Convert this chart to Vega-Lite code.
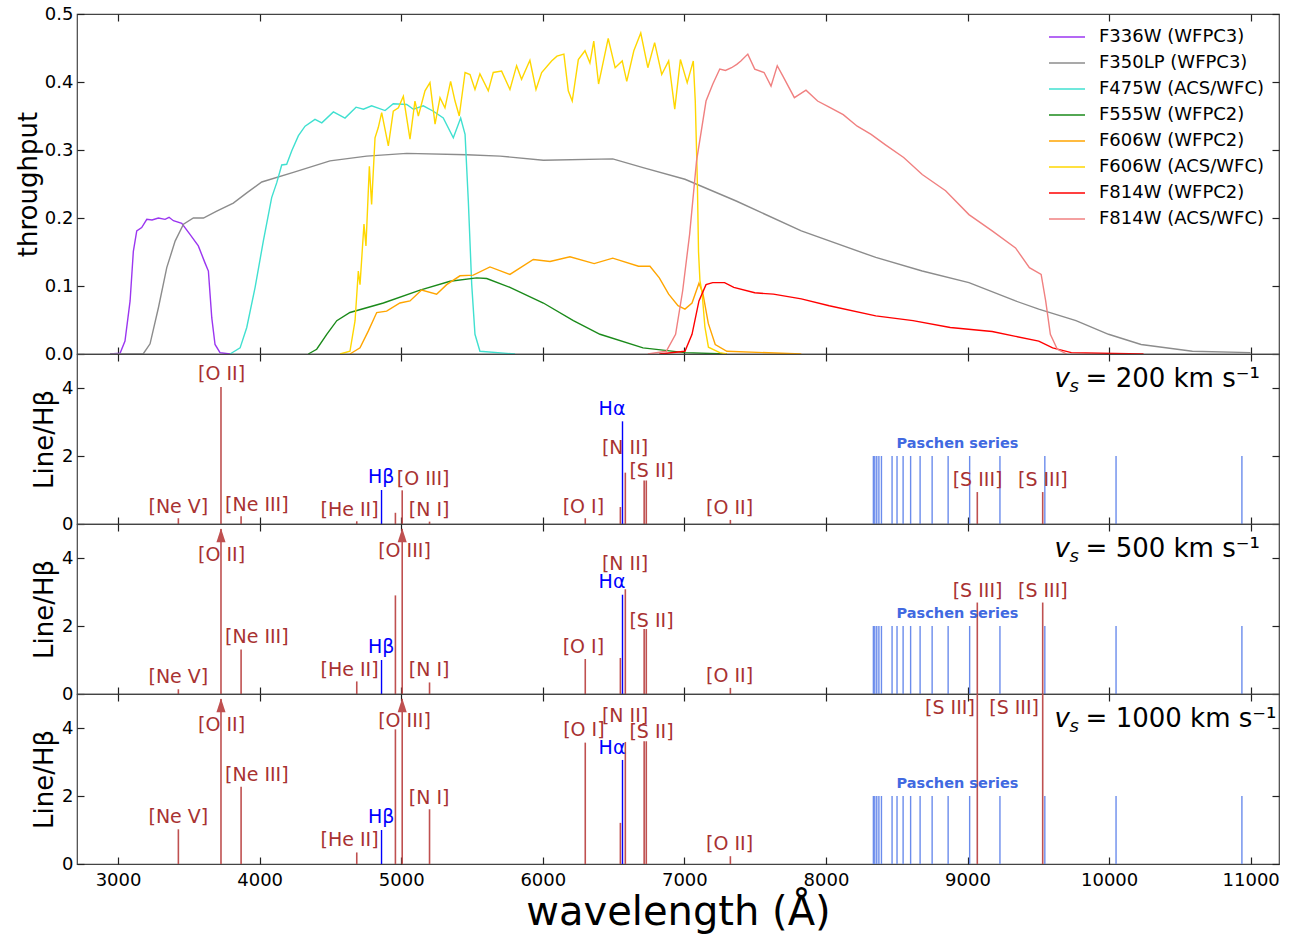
{
  "$schema": "https://vega.github.io/schema/vega-lite/v6.json",
  "padding": {"left": 14, "top": 4, "right": 5, "bottom": 2},
  "config": {
    "font": "DejaVu Sans",
    "view": {"stroke": "#444", "strokeWidth": 1.2},
    "axis": {"grid": false, "domain": false, "tickSize": -7, "tickColor": "#222", "tickWidth": 1.2, "labelFontSize": 18, "labelColor": "#000", "labelFont": "DejaVu Sans", "titleFont": "DejaVu Sans", "titleFontSize": 26, "titleFontWeight": "normal", "titleColor": "#000", "labelPadding": 11, "titlePadding": 4},
    "legend": {"labelFont": "DejaVu Sans"}
  },
  "datasets": {
    "filters": [
      {"filter": "F336W (WFPC3)", "wavelength": 2944, "throughput": 0},
      {"filter": "F336W (WFPC3)", "wavelength": 3014, "throughput": 0.001},
      {"filter": "F336W (WFPC3)", "wavelength": 3049, "throughput": 0.019},
      {"filter": "F336W (WFPC3)", "wavelength": 3085, "throughput": 0.078},
      {"filter": "F336W (WFPC3)", "wavelength": 3108, "throughput": 0.151},
      {"filter": "F336W (WFPC3)", "wavelength": 3132, "throughput": 0.181},
      {"filter": "F336W (WFPC3)", "wavelength": 3167, "throughput": 0.186},
      {"filter": "F336W (WFPC3)", "wavelength": 3203, "throughput": 0.198},
      {"filter": "F336W (WFPC3)", "wavelength": 3240, "throughput": 0.197},
      {"filter": "F336W (WFPC3)", "wavelength": 3285, "throughput": 0.2},
      {"filter": "F336W (WFPC3)", "wavelength": 3332, "throughput": 0.198},
      {"filter": "F336W (WFPC3)", "wavelength": 3360, "throughput": 0.201},
      {"filter": "F336W (WFPC3)", "wavelength": 3391, "throughput": 0.196},
      {"filter": "F336W (WFPC3)", "wavelength": 3450, "throughput": 0.192},
      {"filter": "F336W (WFPC3)", "wavelength": 3508, "throughput": 0.176},
      {"filter": "F336W (WFPC3)", "wavelength": 3567, "throughput": 0.159},
      {"filter": "F336W (WFPC3)", "wavelength": 3614, "throughput": 0.134},
      {"filter": "F336W (WFPC3)", "wavelength": 3638, "throughput": 0.122},
      {"filter": "F336W (WFPC3)", "wavelength": 3662, "throughput": 0.053},
      {"filter": "F336W (WFPC3)", "wavelength": 3685, "throughput": 0.014},
      {"filter": "F336W (WFPC3)", "wavelength": 3720, "throughput": 0.002},
      {"filter": "F336W (WFPC3)", "wavelength": 3791, "throughput": 0},
      {"filter": "F350LP (WFPC3)", "wavelength": 2944, "throughput": 0},
      {"filter": "F350LP (WFPC3)", "wavelength": 3177, "throughput": 0},
      {"filter": "F350LP (WFPC3)", "wavelength": 3226, "throughput": 0.015},
      {"filter": "F350LP (WFPC3)", "wavelength": 3285, "throughput": 0.068},
      {"filter": "F350LP (WFPC3)", "wavelength": 3344, "throughput": 0.127},
      {"filter": "F350LP (WFPC3)", "wavelength": 3403, "throughput": 0.166},
      {"filter": "F350LP (WFPC3)", "wavelength": 3462, "throughput": 0.191},
      {"filter": "F350LP (WFPC3)", "wavelength": 3532, "throughput": 0.2},
      {"filter": "F350LP (WFPC3)", "wavelength": 3603, "throughput": 0.2},
      {"filter": "F350LP (WFPC3)", "wavelength": 3697, "throughput": 0.21},
      {"filter": "F350LP (WFPC3)", "wavelength": 3814, "throughput": 0.222},
      {"filter": "F350LP (WFPC3)", "wavelength": 3909, "throughput": 0.237},
      {"filter": "F350LP (WFPC3)", "wavelength": 4015, "throughput": 0.253},
      {"filter": "F350LP (WFPC3)", "wavelength": 4238, "throughput": 0.267},
      {"filter": "F350LP (WFPC3)", "wavelength": 4497, "throughput": 0.284},
      {"filter": "F350LP (WFPC3)", "wavelength": 4756, "throughput": 0.291},
      {"filter": "F350LP (WFPC3)", "wavelength": 5039, "throughput": 0.295},
      {"filter": "F350LP (WFPC3)", "wavelength": 5463, "throughput": 0.293},
      {"filter": "F350LP (WFPC3)", "wavelength": 5698, "throughput": 0.291},
      {"filter": "F350LP (WFPC3)", "wavelength": 6004, "throughput": 0.285},
      {"filter": "F350LP (WFPC3)", "wavelength": 6494, "throughput": 0.287},
      {"filter": "F350LP (WFPC3)", "wavelength": 6708, "throughput": 0.274},
      {"filter": "F350LP (WFPC3)", "wavelength": 7004, "throughput": 0.257},
      {"filter": "F350LP (WFPC3)", "wavelength": 7366, "throughput": 0.225},
      {"filter": "F350LP (WFPC3)", "wavelength": 7826, "throughput": 0.181},
      {"filter": "F350LP (WFPC3)", "wavelength": 8352, "throughput": 0.142},
      {"filter": "F350LP (WFPC3)", "wavelength": 8680, "throughput": 0.122},
      {"filter": "F350LP (WFPC3)", "wavelength": 9010, "throughput": 0.105},
      {"filter": "F350LP (WFPC3)", "wavelength": 9339, "throughput": 0.078},
      {"filter": "F350LP (WFPC3)", "wavelength": 9503, "throughput": 0.066},
      {"filter": "F350LP (WFPC3)", "wavelength": 9766, "throughput": 0.049},
      {"filter": "F350LP (WFPC3)", "wavelength": 9996, "throughput": 0.029},
      {"filter": "F350LP (WFPC3)", "wavelength": 10226, "throughput": 0.014},
      {"filter": "F350LP (WFPC3)", "wavelength": 10588, "throughput": 0.004},
      {"filter": "F350LP (WFPC3)", "wavelength": 10999, "throughput": 0.002},
      {"filter": "F475W (ACS/WFC)", "wavelength": 3791, "throughput": 0},
      {"filter": "F475W (ACS/WFC)", "wavelength": 3862, "throughput": 0.009},
      {"filter": "F475W (ACS/WFC)", "wavelength": 3909, "throughput": 0.039},
      {"filter": "F475W (ACS/WFC)", "wavelength": 3968, "throughput": 0.098},
      {"filter": "F475W (ACS/WFC)", "wavelength": 4026, "throughput": 0.166},
      {"filter": "F475W (ACS/WFC)", "wavelength": 4085, "throughput": 0.23},
      {"filter": "F475W (ACS/WFC)", "wavelength": 4121, "throughput": 0.252},
      {"filter": "F475W (ACS/WFC)", "wavelength": 4156, "throughput": 0.278},
      {"filter": "F475W (ACS/WFC)", "wavelength": 4191, "throughput": 0.279},
      {"filter": "F475W (ACS/WFC)", "wavelength": 4227, "throughput": 0.299},
      {"filter": "F475W (ACS/WFC)", "wavelength": 4274, "throughput": 0.321},
      {"filter": "F475W (ACS/WFC)", "wavelength": 4321, "throughput": 0.335},
      {"filter": "F475W (ACS/WFC)", "wavelength": 4391, "throughput": 0.345},
      {"filter": "F475W (ACS/WFC)", "wavelength": 4439, "throughput": 0.34},
      {"filter": "F475W (ACS/WFC)", "wavelength": 4521, "throughput": 0.356},
      {"filter": "F475W (ACS/WFC)", "wavelength": 4603, "throughput": 0.347},
      {"filter": "F475W (ACS/WFC)", "wavelength": 4681, "throughput": 0.363},
      {"filter": "F475W (ACS/WFC)", "wavelength": 4733, "throughput": 0.36},
      {"filter": "F475W (ACS/WFC)", "wavelength": 4791, "throughput": 0.365},
      {"filter": "F475W (ACS/WFC)", "wavelength": 4886, "throughput": 0.358},
      {"filter": "F475W (ACS/WFC)", "wavelength": 4944, "throughput": 0.368},
      {"filter": "F475W (ACS/WFC)", "wavelength": 5039, "throughput": 0.367},
      {"filter": "F475W (ACS/WFC)", "wavelength": 5086, "throughput": 0.36},
      {"filter": "F475W (ACS/WFC)", "wavelength": 5156, "throughput": 0.365},
      {"filter": "F475W (ACS/WFC)", "wavelength": 5227, "throughput": 0.357},
      {"filter": "F475W (ACS/WFC)", "wavelength": 5297, "throughput": 0.347},
      {"filter": "F475W (ACS/WFC)", "wavelength": 5368, "throughput": 0.318},
      {"filter": "F475W (ACS/WFC)", "wavelength": 5420, "throughput": 0.347},
      {"filter": "F475W (ACS/WFC)", "wavelength": 5451, "throughput": 0.323},
      {"filter": "F475W (ACS/WFC)", "wavelength": 5474, "throughput": 0.225},
      {"filter": "F475W (ACS/WFC)", "wavelength": 5498, "throughput": 0.102},
      {"filter": "F475W (ACS/WFC)", "wavelength": 5521, "throughput": 0.029},
      {"filter": "F475W (ACS/WFC)", "wavelength": 5556, "throughput": 0.004},
      {"filter": "F475W (ACS/WFC)", "wavelength": 5804, "throughput": 0},
      {"filter": "F555W (WFPC2)", "wavelength": 4344, "throughput": 0},
      {"filter": "F555W (WFPC2)", "wavelength": 4403, "throughput": 0.007},
      {"filter": "F555W (WFPC2)", "wavelength": 4474, "throughput": 0.029},
      {"filter": "F555W (WFPC2)", "wavelength": 4545, "throughput": 0.049},
      {"filter": "F555W (WFPC2)", "wavelength": 4638, "throughput": 0.061},
      {"filter": "F555W (WFPC2)", "wavelength": 4874, "throughput": 0.075},
      {"filter": "F555W (WFPC2)", "wavelength": 5133, "throughput": 0.094},
      {"filter": "F555W (WFPC2)", "wavelength": 5345, "throughput": 0.107},
      {"filter": "F555W (WFPC2)", "wavelength": 5533, "throughput": 0.112},
      {"filter": "F555W (WFPC2)", "wavelength": 5604, "throughput": 0.111},
      {"filter": "F555W (WFPC2)", "wavelength": 5768, "throughput": 0.098},
      {"filter": "F555W (WFPC2)", "wavelength": 6004, "throughput": 0.075},
      {"filter": "F555W (WFPC2)", "wavelength": 6216, "throughput": 0.049},
      {"filter": "F555W (WFPC2)", "wavelength": 6404, "throughput": 0.029},
      {"filter": "F555W (WFPC2)", "wavelength": 6708, "throughput": 0.009},
      {"filter": "F555W (WFPC2)", "wavelength": 7004, "throughput": 0.002},
      {"filter": "F555W (WFPC2)", "wavelength": 7300, "throughput": 0},
      {"filter": "F606W (WFPC2)", "wavelength": 4638, "throughput": 0},
      {"filter": "F606W (WFPC2)", "wavelength": 4709, "throughput": 0.009},
      {"filter": "F606W (WFPC2)", "wavelength": 4768, "throughput": 0.034},
      {"filter": "F606W (WFPC2)", "wavelength": 4827, "throughput": 0.061},
      {"filter": "F606W (WFPC2)", "wavelength": 4897, "throughput": 0.063},
      {"filter": "F606W (WFPC2)", "wavelength": 4991, "throughput": 0.075},
      {"filter": "F606W (WFPC2)", "wavelength": 5062, "throughput": 0.078},
      {"filter": "F606W (WFPC2)", "wavelength": 5144, "throughput": 0.094},
      {"filter": "F606W (WFPC2)", "wavelength": 5250, "throughput": 0.088},
      {"filter": "F606W (WFPC2)", "wavelength": 5321, "throughput": 0.102},
      {"filter": "F606W (WFPC2)", "wavelength": 5415, "throughput": 0.115},
      {"filter": "F606W (WFPC2)", "wavelength": 5509, "throughput": 0.116},
      {"filter": "F606W (WFPC2)", "wavelength": 5627, "throughput": 0.128},
      {"filter": "F606W (WFPC2)", "wavelength": 5768, "throughput": 0.117},
      {"filter": "F606W (WFPC2)", "wavelength": 5933, "throughput": 0.139},
      {"filter": "F606W (WFPC2)", "wavelength": 6051, "throughput": 0.136},
      {"filter": "F606W (WFPC2)", "wavelength": 6192, "throughput": 0.143},
      {"filter": "F606W (WFPC2)", "wavelength": 6363, "throughput": 0.133},
      {"filter": "F606W (WFPC2)", "wavelength": 6494, "throughput": 0.141},
      {"filter": "F606W (WFPC2)", "wavelength": 6676, "throughput": 0.129},
      {"filter": "F606W (WFPC2)", "wavelength": 6757, "throughput": 0.129},
      {"filter": "F606W (WFPC2)", "wavelength": 6823, "throughput": 0.112},
      {"filter": "F606W (WFPC2)", "wavelength": 6889, "throughput": 0.088},
      {"filter": "F606W (WFPC2)", "wavelength": 6955, "throughput": 0.071},
      {"filter": "F606W (WFPC2)", "wavelength": 7004, "throughput": 0.066},
      {"filter": "F606W (WFPC2)", "wavelength": 7054, "throughput": 0.075},
      {"filter": "F606W (WFPC2)", "wavelength": 7103, "throughput": 0.104},
      {"filter": "F606W (WFPC2)", "wavelength": 7130, "throughput": 0.09},
      {"filter": "F606W (WFPC2)", "wavelength": 7169, "throughput": 0.045},
      {"filter": "F606W (WFPC2)", "wavelength": 7218, "throughput": 0.014},
      {"filter": "F606W (WFPC2)", "wavelength": 7300, "throughput": 0.004},
      {"filter": "F606W (WFPC2)", "wavelength": 7826, "throughput": 0},
      {"filter": "F606W (ACS/WFC)", "wavelength": 4568, "throughput": 0},
      {"filter": "F606W (ACS/WFC)", "wavelength": 4638, "throughput": 0.004},
      {"filter": "F606W (ACS/WFC)", "wavelength": 4674, "throughput": 0.049},
      {"filter": "F606W (ACS/WFC)", "wavelength": 4697, "throughput": 0.122},
      {"filter": "F606W (ACS/WFC)", "wavelength": 4709, "throughput": 0.102},
      {"filter": "F606W (ACS/WFC)", "wavelength": 4737, "throughput": 0.191},
      {"filter": "F606W (ACS/WFC)", "wavelength": 4751, "throughput": 0.159},
      {"filter": "F606W (ACS/WFC)", "wavelength": 4775, "throughput": 0.276},
      {"filter": "F606W (ACS/WFC)", "wavelength": 4791, "throughput": 0.22},
      {"filter": "F606W (ACS/WFC)", "wavelength": 4815, "throughput": 0.318},
      {"filter": "F606W (ACS/WFC)", "wavelength": 4838, "throughput": 0.333},
      {"filter": "F606W (ACS/WFC)", "wavelength": 4862, "throughput": 0.355},
      {"filter": "F606W (ACS/WFC)", "wavelength": 4909, "throughput": 0.306},
      {"filter": "F606W (ACS/WFC)", "wavelength": 4944, "throughput": 0.357},
      {"filter": "F606W (ACS/WFC)", "wavelength": 4980, "throughput": 0.362},
      {"filter": "F606W (ACS/WFC)", "wavelength": 5015, "throughput": 0.379},
      {"filter": "F606W (ACS/WFC)", "wavelength": 5062, "throughput": 0.316},
      {"filter": "F606W (ACS/WFC)", "wavelength": 5097, "throughput": 0.372},
      {"filter": "F606W (ACS/WFC)", "wavelength": 5121, "throughput": 0.35},
      {"filter": "F606W (ACS/WFC)", "wavelength": 5168, "throughput": 0.387},
      {"filter": "F606W (ACS/WFC)", "wavelength": 5203, "throughput": 0.399},
      {"filter": "F606W (ACS/WFC)", "wavelength": 5239, "throughput": 0.338},
      {"filter": "F606W (ACS/WFC)", "wavelength": 5274, "throughput": 0.377},
      {"filter": "F606W (ACS/WFC)", "wavelength": 5309, "throughput": 0.362},
      {"filter": "F606W (ACS/WFC)", "wavelength": 5349, "throughput": 0.401},
      {"filter": "F606W (ACS/WFC)", "wavelength": 5380, "throughput": 0.372},
      {"filter": "F606W (ACS/WFC)", "wavelength": 5410, "throughput": 0.35},
      {"filter": "F606W (ACS/WFC)", "wavelength": 5451, "throughput": 0.414},
      {"filter": "F606W (ACS/WFC)", "wavelength": 5486, "throughput": 0.411},
      {"filter": "F606W (ACS/WFC)", "wavelength": 5521, "throughput": 0.389},
      {"filter": "F606W (ACS/WFC)", "wavelength": 5556, "throughput": 0.412},
      {"filter": "F606W (ACS/WFC)", "wavelength": 5615, "throughput": 0.387},
      {"filter": "F606W (ACS/WFC)", "wavelength": 5650, "throughput": 0.414},
      {"filter": "F606W (ACS/WFC)", "wavelength": 5709, "throughput": 0.416},
      {"filter": "F606W (ACS/WFC)", "wavelength": 5768, "throughput": 0.389},
      {"filter": "F606W (ACS/WFC)", "wavelength": 5815, "throughput": 0.424},
      {"filter": "F606W (ACS/WFC)", "wavelength": 5850, "throughput": 0.404},
      {"filter": "F606W (ACS/WFC)", "wavelength": 5909, "throughput": 0.432},
      {"filter": "F606W (ACS/WFC)", "wavelength": 5952, "throughput": 0.389},
      {"filter": "F606W (ACS/WFC)", "wavelength": 5992, "throughput": 0.414},
      {"filter": "F606W (ACS/WFC)", "wavelength": 6062, "throughput": 0.431},
      {"filter": "F606W (ACS/WFC)", "wavelength": 6100, "throughput": 0.438},
      {"filter": "F606W (ACS/WFC)", "wavelength": 6149, "throughput": 0.441},
      {"filter": "F606W (ACS/WFC)", "wavelength": 6180, "throughput": 0.387},
      {"filter": "F606W (ACS/WFC)", "wavelength": 6208, "throughput": 0.372},
      {"filter": "F606W (ACS/WFC)", "wavelength": 6251, "throughput": 0.433},
      {"filter": "F606W (ACS/WFC)", "wavelength": 6298, "throughput": 0.446},
      {"filter": "F606W (ACS/WFC)", "wavelength": 6333, "throughput": 0.428},
      {"filter": "F606W (ACS/WFC)", "wavelength": 6360, "throughput": 0.46},
      {"filter": "F606W (ACS/WFC)", "wavelength": 6394, "throughput": 0.397},
      {"filter": "F606W (ACS/WFC)", "wavelength": 6462, "throughput": 0.464},
      {"filter": "F606W (ACS/WFC)", "wavelength": 6511, "throughput": 0.421},
      {"filter": "F606W (ACS/WFC)", "wavelength": 6561, "throughput": 0.431},
      {"filter": "F606W (ACS/WFC)", "wavelength": 6593, "throughput": 0.401},
      {"filter": "F606W (ACS/WFC)", "wavelength": 6643, "throughput": 0.446},
      {"filter": "F606W (ACS/WFC)", "wavelength": 6692, "throughput": 0.472},
      {"filter": "F606W (ACS/WFC)", "wavelength": 6742, "throughput": 0.421},
      {"filter": "F606W (ACS/WFC)", "wavelength": 6790, "throughput": 0.458},
      {"filter": "F606W (ACS/WFC)", "wavelength": 6840, "throughput": 0.411},
      {"filter": "F606W (ACS/WFC)", "wavelength": 6889, "throughput": 0.431},
      {"filter": "F606W (ACS/WFC)", "wavelength": 6932, "throughput": 0.36},
      {"filter": "F606W (ACS/WFC)", "wavelength": 6972, "throughput": 0.433},
      {"filter": "F606W (ACS/WFC)", "wavelength": 7020, "throughput": 0.399},
      {"filter": "F606W (ACS/WFC)", "wavelength": 7063, "throughput": 0.431},
      {"filter": "F606W (ACS/WFC)", "wavelength": 7077, "throughput": 0.372},
      {"filter": "F606W (ACS/WFC)", "wavelength": 7092, "throughput": 0.25},
      {"filter": "F606W (ACS/WFC)", "wavelength": 7100, "throughput": 0.15},
      {"filter": "F606W (ACS/WFC)", "wavelength": 7110, "throughput": 0.108},
      {"filter": "F606W (ACS/WFC)", "wavelength": 7125, "throughput": 0.09},
      {"filter": "F606W (ACS/WFC)", "wavelength": 7145, "throughput": 0.04},
      {"filter": "F606W (ACS/WFC)", "wavelength": 7170, "throughput": 0.01},
      {"filter": "F606W (ACS/WFC)", "wavelength": 7250, "throughput": 0.002},
      {"filter": "F606W (ACS/WFC)", "wavelength": 7300, "throughput": 0},
      {"filter": "F814W (WFPC2)", "wavelength": 6823, "throughput": 0},
      {"filter": "F814W (WFPC2)", "wavelength": 7004, "throughput": 0.004},
      {"filter": "F814W (WFPC2)", "wavelength": 7054, "throughput": 0.029},
      {"filter": "F814W (WFPC2)", "wavelength": 7103, "throughput": 0.078},
      {"filter": "F814W (WFPC2)", "wavelength": 7153, "throughput": 0.102},
      {"filter": "F814W (WFPC2)", "wavelength": 7200, "throughput": 0.105},
      {"filter": "F814W (WFPC2)", "wavelength": 7284, "throughput": 0.105},
      {"filter": "F814W (WFPC2)", "wavelength": 7349, "throughput": 0.098},
      {"filter": "F814W (WFPC2)", "wavelength": 7497, "throughput": 0.09},
      {"filter": "F814W (WFPC2)", "wavelength": 7629, "throughput": 0.088},
      {"filter": "F814W (WFPC2)", "wavelength": 7826, "throughput": 0.081},
      {"filter": "F814W (WFPC2)", "wavelength": 8023, "throughput": 0.071},
      {"filter": "F814W (WFPC2)", "wavelength": 8352, "throughput": 0.056},
      {"filter": "F814W (WFPC2)", "wavelength": 8615, "throughput": 0.049},
      {"filter": "F814W (WFPC2)", "wavelength": 8878, "throughput": 0.039},
      {"filter": "F814W (WFPC2)", "wavelength": 9174, "throughput": 0.033},
      {"filter": "F814W (WFPC2)", "wavelength": 9339, "throughput": 0.026},
      {"filter": "F814W (WFPC2)", "wavelength": 9503, "throughput": 0.019},
      {"filter": "F814W (WFPC2)", "wavelength": 9601, "throughput": 0.009},
      {"filter": "F814W (WFPC2)", "wavelength": 9733, "throughput": 0.002},
      {"filter": "F814W (WFPC2)", "wavelength": 10243, "throughput": 0},
      {"filter": "F814W (ACS/WFC)", "wavelength": 6742, "throughput": 0},
      {"filter": "F814W (ACS/WFC)", "wavelength": 6872, "throughput": 0.004},
      {"filter": "F814W (ACS/WFC)", "wavelength": 6938, "throughput": 0.029},
      {"filter": "F814W (ACS/WFC)", "wavelength": 6988, "throughput": 0.093},
      {"filter": "F814W (ACS/WFC)", "wavelength": 7037, "throughput": 0.176},
      {"filter": "F814W (ACS/WFC)", "wavelength": 7086, "throughput": 0.284},
      {"filter": "F814W (ACS/WFC)", "wavelength": 7153, "throughput": 0.372},
      {"filter": "F814W (ACS/WFC)", "wavelength": 7201, "throughput": 0.397},
      {"filter": "F814W (ACS/WFC)", "wavelength": 7250, "throughput": 0.419},
      {"filter": "F814W (ACS/WFC)", "wavelength": 7290, "throughput": 0.417},
      {"filter": "F814W (ACS/WFC)", "wavelength": 7333, "throughput": 0.421},
      {"filter": "F814W (ACS/WFC)", "wavelength": 7370, "throughput": 0.426},
      {"filter": "F814W (ACS/WFC)", "wavelength": 7399, "throughput": 0.431},
      {"filter": "F814W (ACS/WFC)", "wavelength": 7448, "throughput": 0.441},
      {"filter": "F814W (ACS/WFC)", "wavelength": 7497, "throughput": 0.419},
      {"filter": "F814W (ACS/WFC)", "wavelength": 7563, "throughput": 0.414},
      {"filter": "F814W (ACS/WFC)", "wavelength": 7612, "throughput": 0.394},
      {"filter": "F814W (ACS/WFC)", "wavelength": 7656, "throughput": 0.424},
      {"filter": "F814W (ACS/WFC)", "wavelength": 7695, "throughput": 0.409},
      {"filter": "F814W (ACS/WFC)", "wavelength": 7777, "throughput": 0.377},
      {"filter": "F814W (ACS/WFC)", "wavelength": 7859, "throughput": 0.388},
      {"filter": "F814W (ACS/WFC)", "wavelength": 7941, "throughput": 0.372},
      {"filter": "F814W (ACS/WFC)", "wavelength": 8023, "throughput": 0.363},
      {"filter": "F814W (ACS/WFC)", "wavelength": 8122, "throughput": 0.352},
      {"filter": "F814W (ACS/WFC)", "wavelength": 8221, "throughput": 0.335},
      {"filter": "F814W (ACS/WFC)", "wavelength": 8319, "throughput": 0.323},
      {"filter": "F814W (ACS/WFC)", "wavelength": 8418, "throughput": 0.308},
      {"filter": "F814W (ACS/WFC)", "wavelength": 8549, "throughput": 0.289},
      {"filter": "F814W (ACS/WFC)", "wavelength": 8680, "throughput": 0.264},
      {"filter": "F814W (ACS/WFC)", "wavelength": 8845, "throughput": 0.24},
      {"filter": "F814W (ACS/WFC)", "wavelength": 9010, "throughput": 0.205},
      {"filter": "F814W (ACS/WFC)", "wavelength": 9174, "throughput": 0.181},
      {"filter": "F814W (ACS/WFC)", "wavelength": 9339, "throughput": 0.156},
      {"filter": "F814W (ACS/WFC)", "wavelength": 9437, "throughput": 0.127},
      {"filter": "F814W (ACS/WFC)", "wavelength": 9520, "throughput": 0.117},
      {"filter": "F814W (ACS/WFC)", "wavelength": 9552, "throughput": 0.078},
      {"filter": "F814W (ACS/WFC)", "wavelength": 9585, "throughput": 0.029},
      {"filter": "F814W (ACS/WFC)", "wavelength": 9634, "throughput": 0.007},
      {"filter": "F814W (ACS/WFC)", "wavelength": 9700, "throughput": 0}
    ],
    "lines": [
      {"panel": "v200", "ion": "[Ne V]", "wavelength": 3426, "ratio": 0.17, "kind": "forbidden"},
      {"panel": "v200", "ion": "[O II]", "wavelength": 3727, "ratio": 4.03, "kind": "forbidden"},
      {"panel": "v200", "ion": "[Ne III]", "wavelength": 3869, "ratio": 0.23, "kind": "forbidden"},
      {"panel": "v200", "ion": "[He II]", "wavelength": 4686, "ratio": 0.08, "kind": "forbidden"},
      {"panel": "v200", "ion": "Hβ", "wavelength": 4861, "ratio": 1.0, "kind": "balmer"},
      {"panel": "v200", "ion": "[O III]", "wavelength": 4959, "ratio": 0.33, "kind": "forbidden"},
      {"panel": "v200", "ion": "[O III]", "wavelength": 5007, "ratio": 0.99, "kind": "forbidden"},
      {"panel": "v200", "ion": "[N I]", "wavelength": 5200, "ratio": 0.07, "kind": "forbidden"},
      {"panel": "v200", "ion": "[O I]", "wavelength": 6300, "ratio": 0.17, "kind": "forbidden"},
      {"panel": "v200", "ion": "[N II]", "wavelength": 6548, "ratio": 0.5, "kind": "forbidden"},
      {"panel": "v200", "ion": "Hα", "wavelength": 6563, "ratio": 3.02, "kind": "balmer"},
      {"panel": "v200", "ion": "[N II]", "wavelength": 6583, "ratio": 1.51, "kind": "forbidden"},
      {"panel": "v200", "ion": "[S II]", "wavelength": 6716, "ratio": 1.28, "kind": "forbidden"},
      {"panel": "v200", "ion": "[S II]", "wavelength": 6731, "ratio": 1.28, "kind": "forbidden"},
      {"panel": "v200", "ion": "[O II]", "wavelength": 7325, "ratio": 0.12, "kind": "forbidden"},
      {"panel": "v200", "ion": "[S III]", "wavelength": 9069, "ratio": 0.94, "kind": "forbidden"},
      {"panel": "v200", "ion": "[S III]", "wavelength": 9531, "ratio": 0.94, "kind": "forbidden"},
      {"panel": "v500", "ion": "[Ne V]", "wavelength": 3426, "ratio": 0.14, "kind": "forbidden"},
      {"panel": "v500", "ion": "[O II]", "wavelength": 3727, "ratio": 4.85, "kind": "forbidden", "arrow": true},
      {"panel": "v500", "ion": "[Ne III]", "wavelength": 3869, "ratio": 1.31, "kind": "forbidden"},
      {"panel": "v500", "ion": "[He II]", "wavelength": 4686, "ratio": 0.37, "kind": "forbidden"},
      {"panel": "v500", "ion": "Hβ", "wavelength": 4861, "ratio": 1.0, "kind": "balmer"},
      {"panel": "v500", "ion": "[O III]", "wavelength": 4959, "ratio": 2.9, "kind": "forbidden"},
      {"panel": "v500", "ion": "[O III]", "wavelength": 5007, "ratio": 4.85, "kind": "forbidden", "arrow": true},
      {"panel": "v500", "ion": "[N I]", "wavelength": 5200, "ratio": 0.34, "kind": "forbidden"},
      {"panel": "v500", "ion": "[O I]", "wavelength": 6300, "ratio": 1.03, "kind": "forbidden"},
      {"panel": "v500", "ion": "[N II]", "wavelength": 6548, "ratio": 1.06, "kind": "forbidden"},
      {"panel": "v500", "ion": "Hα", "wavelength": 6563, "ratio": 2.92, "kind": "balmer"},
      {"panel": "v500", "ion": "[N II]", "wavelength": 6583, "ratio": 3.08, "kind": "forbidden"},
      {"panel": "v500", "ion": "[S II]", "wavelength": 6716, "ratio": 1.91, "kind": "forbidden"},
      {"panel": "v500", "ion": "[S II]", "wavelength": 6731, "ratio": 1.91, "kind": "forbidden"},
      {"panel": "v500", "ion": "[O II]", "wavelength": 7325, "ratio": 0.18, "kind": "forbidden"},
      {"panel": "v500", "ion": "[S III]", "wavelength": 9069, "ratio": 2.69, "kind": "forbidden"},
      {"panel": "v500", "ion": "[S III]", "wavelength": 9531, "ratio": 2.69, "kind": "forbidden"},
      {"panel": "v1000", "ion": "[Ne V]", "wavelength": 3426, "ratio": 1.02, "kind": "forbidden"},
      {"panel": "v1000", "ion": "[O II]", "wavelength": 3727, "ratio": 4.85, "kind": "forbidden", "arrow": true},
      {"panel": "v1000", "ion": "[Ne III]", "wavelength": 3869, "ratio": 2.27, "kind": "forbidden"},
      {"panel": "v1000", "ion": "[He II]", "wavelength": 4686, "ratio": 0.34, "kind": "forbidden"},
      {"panel": "v1000", "ion": "Hβ", "wavelength": 4861, "ratio": 1.0, "kind": "balmer"},
      {"panel": "v1000", "ion": "[O III]", "wavelength": 4959, "ratio": 3.96, "kind": "forbidden"},
      {"panel": "v1000", "ion": "[O III]", "wavelength": 5007, "ratio": 4.85, "kind": "forbidden", "arrow": true},
      {"panel": "v1000", "ion": "[N I]", "wavelength": 5200, "ratio": 1.61, "kind": "forbidden"},
      {"panel": "v1000", "ion": "[O I]", "wavelength": 6300, "ratio": 3.57, "kind": "forbidden"},
      {"panel": "v1000", "ion": "[N II]", "wavelength": 6548, "ratio": 1.21, "kind": "forbidden"},
      {"panel": "v1000", "ion": "Hα", "wavelength": 6563, "ratio": 3.06, "kind": "balmer"},
      {"panel": "v1000", "ion": "[N II]", "wavelength": 6583, "ratio": 3.59, "kind": "forbidden"},
      {"panel": "v1000", "ion": "[S II]", "wavelength": 6716, "ratio": 3.61, "kind": "forbidden"},
      {"panel": "v1000", "ion": "[S II]", "wavelength": 6731, "ratio": 3.61, "kind": "forbidden"},
      {"panel": "v1000", "ion": "[O II]", "wavelength": 7325, "ratio": 0.23, "kind": "forbidden"},
      {"panel": "v1000", "ion": "[S III]", "wavelength": 9069, "ratio": 5.0, "kind": "forbidden"},
      {"panel": "v1000", "ion": "[S III]", "wavelength": 9531, "ratio": 5.0, "kind": "forbidden"}
    ],
    "labels": [
      {"panel": "v200", "text": "[Ne V]", "wavelength": 3426, "ratio": 0.51, "kind": "forbidden"},
      {"panel": "v200", "text": "[O II]", "wavelength": 3731, "ratio": 4.4, "kind": "forbidden"},
      {"panel": "v200", "text": "[Ne III]", "wavelength": 3980, "ratio": 0.56, "kind": "forbidden"},
      {"panel": "v200", "text": "[He II]", "wavelength": 4635, "ratio": 0.4, "kind": "forbidden"},
      {"panel": "v200", "text": "Hβ", "wavelength": 4859, "ratio": 1.39, "kind": "balmer"},
      {"panel": "v200", "text": "[O III]", "wavelength": 5155, "ratio": 1.33, "kind": "forbidden"},
      {"panel": "v200", "text": "[N I]", "wavelength": 5197, "ratio": 0.4, "kind": "forbidden"},
      {"panel": "v200", "text": "[O I]", "wavelength": 6287, "ratio": 0.51, "kind": "forbidden"},
      {"panel": "v200", "text": "Hα", "wavelength": 6489, "ratio": 3.38, "kind": "balmer"},
      {"panel": "v200", "text": "[N II]", "wavelength": 6581, "ratio": 2.25, "kind": "forbidden"},
      {"panel": "v200", "text": "[S II]", "wavelength": 6768, "ratio": 1.56, "kind": "forbidden"},
      {"panel": "v200", "text": "[O II]", "wavelength": 7319, "ratio": 0.48, "kind": "forbidden"},
      {"panel": "v200", "text": "[S III]", "wavelength": 9071, "ratio": 1.28, "kind": "forbidden"},
      {"panel": "v200", "text": "[S III]", "wavelength": 9532, "ratio": 1.28, "kind": "forbidden"},
      {"panel": "v500", "text": "[Ne V]", "wavelength": 3426, "ratio": 0.51, "kind": "forbidden"},
      {"panel": "v500", "text": "[O II]", "wavelength": 3731, "ratio": 4.08, "kind": "forbidden"},
      {"panel": "v500", "text": "[Ne III]", "wavelength": 3980, "ratio": 1.68, "kind": "forbidden"},
      {"panel": "v500", "text": "[He II]", "wavelength": 4635, "ratio": 0.71, "kind": "forbidden"},
      {"panel": "v500", "text": "Hβ", "wavelength": 4859, "ratio": 1.39, "kind": "balmer"},
      {"panel": "v500", "text": "[O III]", "wavelength": 5023, "ratio": 4.21, "kind": "forbidden"},
      {"panel": "v500", "text": "[N I]", "wavelength": 5197, "ratio": 0.71, "kind": "forbidden"},
      {"panel": "v500", "text": "[O I]", "wavelength": 6287, "ratio": 1.39, "kind": "forbidden"},
      {"panel": "v500", "text": "Hα", "wavelength": 6489, "ratio": 3.29, "kind": "balmer"},
      {"panel": "v500", "text": "[N II]", "wavelength": 6581, "ratio": 3.81, "kind": "forbidden"},
      {"panel": "v500", "text": "[S II]", "wavelength": 6768, "ratio": 2.15, "kind": "forbidden"},
      {"panel": "v500", "text": "[O II]", "wavelength": 7319, "ratio": 0.53, "kind": "forbidden"},
      {"panel": "v500", "text": "[S III]", "wavelength": 9071, "ratio": 3.03, "kind": "forbidden"},
      {"panel": "v500", "text": "[S III]", "wavelength": 9532, "ratio": 3.03, "kind": "forbidden"},
      {"panel": "v1000", "text": "[Ne V]", "wavelength": 3426, "ratio": 1.39, "kind": "forbidden"},
      {"panel": "v1000", "text": "[O II]", "wavelength": 3731, "ratio": 4.08, "kind": "forbidden"},
      {"panel": "v1000", "text": "[Ne III]", "wavelength": 3980, "ratio": 2.61, "kind": "forbidden"},
      {"panel": "v1000", "text": "[He II]", "wavelength": 4635, "ratio": 0.71, "kind": "forbidden"},
      {"panel": "v1000", "text": "Hβ", "wavelength": 4859, "ratio": 1.39, "kind": "balmer"},
      {"panel": "v1000", "text": "[O III]", "wavelength": 5023, "ratio": 4.21, "kind": "forbidden"},
      {"panel": "v1000", "text": "[N I]", "wavelength": 5197, "ratio": 1.94, "kind": "forbidden"},
      {"panel": "v1000", "text": "[O I]", "wavelength": 6290, "ratio": 3.94, "kind": "forbidden"},
      {"panel": "v1000", "text": "Hα", "wavelength": 6489, "ratio": 3.42, "kind": "balmer"},
      {"panel": "v1000", "text": "[N II]", "wavelength": 6581, "ratio": 4.35, "kind": "forbidden"},
      {"panel": "v1000", "text": "[S II]", "wavelength": 6768, "ratio": 3.89, "kind": "forbidden"},
      {"panel": "v1000", "text": "[O II]", "wavelength": 7319, "ratio": 0.6, "kind": "forbidden"},
      {"panel": "v1000", "text": "[S III]", "wavelength": 8876, "ratio": 4.6, "kind": "forbidden"},
      {"panel": "v1000", "text": "[S III]", "wavelength": 9329, "ratio": 4.6, "kind": "forbidden"}
    ],
    "paschen": [
      {"wavelength": 8335, "ratio": 2}, {"wavelength": 8345, "ratio": 2}, {"wavelength": 8359, "ratio": 2},
      {"wavelength": 8374, "ratio": 2}, {"wavelength": 8392, "ratio": 2}, {"wavelength": 8467, "ratio": 2},
      {"wavelength": 8502, "ratio": 2}, {"wavelength": 8545, "ratio": 2}, {"wavelength": 8598, "ratio": 2},
      {"wavelength": 8665, "ratio": 2}, {"wavelength": 8750, "ratio": 2}, {"wavelength": 8863, "ratio": 2},
      {"wavelength": 9015, "ratio": 2}, {"wavelength": 9229, "ratio": 2}, {"wavelength": 9546, "ratio": 2},
      {"wavelength": 10049, "ratio": 2}, {"wavelength": 10938, "ratio": 2}
    ],
    "speeds": [
      {"panel": "v200", "rest": "= 200 km s⁻¹", "wavelength": 9615, "ratio": 4.26},
      {"panel": "v500", "rest": "= 500 km s⁻¹", "wavelength": 9615, "ratio": 4.26},
      {"panel": "v1000", "rest": "= 1000 km s⁻¹", "wavelength": 9615, "ratio": 4.26}
    ],
    "series": [
      {"text": "Paschen series", "wavelength": 8929, "ratio": 2.35}
    ]
  },
  "vconcat": [
    {
      "width": 1202, "height": 340,
      "data": {"name": "filters"},
      "layer": [
        {
          "mark": {"type": "line", "strokeWidth": 1.4},
          "encoding": {
            "x": {"field": "wavelength", "type": "quantitative", "scale": {"domain": [2710, 11200], "nice": false, "zero": false},
                  "axis": {"orient": "bottom", "values": [3000, 4000, 5000, 6000, 7000, 8000, 9000, 10000, 11000], "labels": false, "title": null}},
            "y": {"field": "throughput", "type": "quantitative", "scale": {"domain": [0, 0.5], "nice": false, "zero": false},
                  "axis": {"orient": "left", "values": [0, 0.1, 0.2, 0.3, 0.4, 0.5], "format": ".1f", "title": "throughput", "titlePadding": 3}},
            "color": {"field": "filter", "type": "nominal",
                      "scale": {"domain": ["F336W (WFPC3)", "F350LP (WFPC3)", "F475W (ACS/WFC)", "F555W (WFPC2)", "F606W (WFPC2)", "F606W (ACS/WFC)", "F814W (WFPC2)", "F814W (ACS/WFC)"],
                                "range": ["#9b36f0", "#8c8c8c", "#40e0d0", "#1a8a1a", "#ffa500", "#ffd700", "#ff0000", "#f08080"]},
                      "legend": {"title": null, "orient": "top-right", "offset": 14, "padding": 0, "labelFontSize": 18, "labelColor": "#000", "symbolType": "stroke", "symbolSize": 1296, "symbolStrokeWidth": 1.6, "clipHeight": 18, "rowPadding": 8, "labelOffset": 13, "labelLimit": 300}}
          }
        },
        {
          "mark": {"type": "point", "opacity": 0},
          "encoding": {
            "x": {"field": "wavelength", "type": "quantitative", "scale": {"domain": [2710, 11200], "nice": false, "zero": false},
                  "axis": {"orient": "top", "values": [3000, 4000, 5000, 6000, 7000, 8000, 9000, 10000, 11000], "labels": false, "title": null}},
            "y": {"field": "throughput", "type": "quantitative", "scale": {"domain": [0, 0.5], "nice": false, "zero": false},
                  "axis": {"orient": "right", "values": [0, 0.1, 0.2, 0.3, 0.4, 0.5], "labels": false, "title": null}}
          }
        }
      ],
      "resolve": {"axis": {"x": "independent", "y": "independent"}}
    },
    {
      "width": 1202, "height": 170,
      "data": {"name": "lines"},
      "encoding": {
        "x": {"field": "wavelength", "type": "quantitative", "scale": {"domain": [2710, 11200], "nice": false, "zero": false}, "axis": null},
        "y": {"field": "ratio", "type": "quantitative", "scale": {"domain": [0, 5], "nice": false, "zero": false}, "axis": null}
      },
      "layer": [
        {
          "transform": [{"filter": "datum.panel == 'v200' && datum.kind == 'forbidden'"}],
          "mark": {"type": "rule", "color": "#bf5050", "strokeWidth": 1.6},
          "encoding": {
            "x": {"field": "wavelength", "type": "quantitative", "scale": {"domain": [2710, 11200], "nice": false, "zero": false},
                  "axis": {"orient": "bottom", "values": [3000, 4000, 5000, 6000, 7000, 8000, 9000, 10000, 11000], "labels": false, "title": null}},
            "y": {"field": "ratio", "type": "quantitative", "scale": {"domain": [0, 5], "nice": false, "zero": false},
                  "axis": {"orient": "left", "values": [0, 2, 4], "format": "d", "title": "Line/Hβ"}},
            "y2": {"datum": 0}
          }
        },
        {
          "transform": [{"filter": "datum.panel == 'v200' && datum.kind == 'balmer'"}],
          "mark": {"type": "rule", "color": "#0000ff", "strokeWidth": 1.4},
          "encoding": {"y2": {"datum": 0}}
        },
        {
          "data": {"name": "paschen"},
          "mark": {"type": "rule", "color": "#6b8cec", "strokeWidth": 1.4},
          "encoding": {"y2": {"datum": 0}}
        },
        {
          "data": {"name": "labels"},
          "transform": [{"filter": "datum.panel == 'v200' && datum.kind == 'forbidden'"}],
          "mark": {"type": "text", "color": "#a83232", "fontSize": 19, "align": "center", "baseline": "middle"},
          "encoding": {"text": {"field": "text"}}
        },
        {
          "data": {"name": "labels"},
          "transform": [{"filter": "datum.panel == 'v200' && datum.kind == 'balmer'"}],
          "mark": {"type": "text", "color": "#0000ff", "fontSize": 19, "align": "center", "baseline": "middle"},
          "encoding": {"text": {"field": "text"}}
        },
        {
          "data": {"name": "series"},
          "mark": {"type": "text", "color": "#4169e1", "fontSize": 14.5, "fontWeight": "bold", "align": "center", "baseline": "middle"},
          "encoding": {"text": {"field": "text"}}
        },
        {
          "data": {"name": "speeds"},
          "transform": [{"filter": "datum.panel == 'v200'"}],
          "layer": [
            {"mark": {"type": "text", "text": "v", "fontSize": 26, "fontStyle": "italic", "align": "left", "baseline": "middle", "color": "#000"}},
            {"mark": {"type": "text", "text": "s", "fontSize": 18, "fontStyle": "italic", "align": "left", "baseline": "middle", "dx": 15, "dy": 8, "color": "#000"}},
            {"mark": {"type": "text", "fontSize": 26, "align": "left", "baseline": "middle", "dx": 31, "color": "#000"}, "encoding": {"text": {"field": "rest"}}}
          ]
        },
        {
          "mark": {"type": "point", "opacity": 0},
          "encoding": {
            "x": {"field": "wavelength", "type": "quantitative", "scale": {"domain": [2710, 11200], "nice": false, "zero": false},
                  "axis": {"orient": "top", "values": [3000, 4000, 5000, 6000, 7000, 8000, 9000, 10000, 11000], "labels": false, "title": null}},
            "y": {"field": "ratio", "type": "quantitative", "scale": {"domain": [0, 5], "nice": false, "zero": false},
                  "axis": {"orient": "right", "values": [0, 2, 4], "labels": false, "title": null}}
          }
        }
      ],
      "resolve": {"axis": {"x": "independent", "y": "independent"}}
    },
    {
      "width": 1202, "height": 170,
      "data": {"name": "lines"},
      "encoding": {
        "x": {"field": "wavelength", "type": "quantitative", "scale": {"domain": [2710, 11200], "nice": false, "zero": false}, "axis": null},
        "y": {"field": "ratio", "type": "quantitative", "scale": {"domain": [0, 5], "nice": false, "zero": false}, "axis": null}
      },
      "layer": [
        {
          "transform": [{"filter": "datum.panel == 'v500' && datum.kind == 'forbidden'"}],
          "mark": {"type": "rule", "color": "#bf5050", "strokeWidth": 1.6},
          "encoding": {
            "x": {"field": "wavelength", "type": "quantitative", "scale": {"domain": [2710, 11200], "nice": false, "zero": false},
                  "axis": {"orient": "bottom", "values": [3000, 4000, 5000, 6000, 7000, 8000, 9000, 10000, 11000], "labels": false, "title": null}},
            "y": {"field": "ratio", "type": "quantitative", "scale": {"domain": [0, 5], "nice": false, "zero": false},
                  "axis": {"orient": "left", "values": [0, 2, 4], "format": "d", "title": "Line/Hβ"}},
            "y2": {"datum": 0}
          }
        },
        {
          "transform": [{"filter": "datum.panel == 'v500' && datum.kind == 'balmer'"}],
          "mark": {"type": "rule", "color": "#0000ff", "strokeWidth": 1.4},
          "encoding": {"y2": {"datum": 0}}
        },
        {
          "transform": [{"filter": "datum.panel == 'v500' && datum.arrow === true"}],
          "mark": {"type": "point", "shape": "M0,-1L0.65,1L-0.65,1Z", "filled": true, "color": "#bf5050", "opacity": 1, "size": 196},
          "encoding": {"y": {"datum": 4.67, "type": "quantitative", "scale": {"domain": [0, 5], "nice": false, "zero": false}, "axis": null}}
        },
        {
          "data": {"name": "paschen"},
          "mark": {"type": "rule", "color": "#6b8cec", "strokeWidth": 1.4},
          "encoding": {"y2": {"datum": 0}}
        },
        {
          "data": {"name": "labels"},
          "transform": [{"filter": "datum.panel == 'v500' && datum.kind == 'forbidden'"}],
          "mark": {"type": "text", "color": "#a83232", "fontSize": 19, "align": "center", "baseline": "middle"},
          "encoding": {"text": {"field": "text"}}
        },
        {
          "data": {"name": "labels"},
          "transform": [{"filter": "datum.panel == 'v500' && datum.kind == 'balmer'"}],
          "mark": {"type": "text", "color": "#0000ff", "fontSize": 19, "align": "center", "baseline": "middle"},
          "encoding": {"text": {"field": "text"}}
        },
        {
          "data": {"name": "series"},
          "mark": {"type": "text", "color": "#4169e1", "fontSize": 14.5, "fontWeight": "bold", "align": "center", "baseline": "middle"},
          "encoding": {"text": {"field": "text"}}
        },
        {
          "data": {"name": "speeds"},
          "transform": [{"filter": "datum.panel == 'v500'"}],
          "layer": [
            {"mark": {"type": "text", "text": "v", "fontSize": 26, "fontStyle": "italic", "align": "left", "baseline": "middle", "color": "#000"}},
            {"mark": {"type": "text", "text": "s", "fontSize": 18, "fontStyle": "italic", "align": "left", "baseline": "middle", "dx": 15, "dy": 8, "color": "#000"}},
            {"mark": {"type": "text", "fontSize": 26, "align": "left", "baseline": "middle", "dx": 31, "color": "#000"}, "encoding": {"text": {"field": "rest"}}}
          ]
        },
        {
          "mark": {"type": "point", "opacity": 0},
          "encoding": {
            "x": {"field": "wavelength", "type": "quantitative", "scale": {"domain": [2710, 11200], "nice": false, "zero": false},
                  "axis": {"orient": "top", "values": [3000, 4000, 5000, 6000, 7000, 8000, 9000, 10000, 11000], "labels": false, "title": null}},
            "y": {"field": "ratio", "type": "quantitative", "scale": {"domain": [0, 5], "nice": false, "zero": false},
                  "axis": {"orient": "right", "values": [0, 2, 4], "labels": false, "title": null}}
          }
        }
      ],
      "resolve": {"axis": {"x": "independent", "y": "independent"}}
    },
    {
      "width": 1202, "height": 170,
      "data": {"name": "lines"},
      "encoding": {
        "x": {"field": "wavelength", "type": "quantitative", "scale": {"domain": [2710, 11200], "nice": false, "zero": false}, "axis": null},
        "y": {"field": "ratio", "type": "quantitative", "scale": {"domain": [0, 5], "nice": false, "zero": false}, "axis": null}
      },
      "layer": [
        {
          "transform": [{"filter": "datum.panel == 'v1000' && datum.kind == 'forbidden'"}],
          "mark": {"type": "rule", "color": "#bf5050", "strokeWidth": 1.6},
          "encoding": {
            "x": {"field": "wavelength", "type": "quantitative", "scale": {"domain": [2710, 11200], "nice": false, "zero": false},
                  "axis": {"orient": "bottom", "values": [3000, 4000, 5000, 6000, 7000, 8000, 9000, 10000, 11000], "format": "d", "labelPadding": 14, "title": "wavelength (Å)", "titleFontSize": 40, "titlePadding": 3}},
            "y": {"field": "ratio", "type": "quantitative", "scale": {"domain": [0, 5], "nice": false, "zero": false},
                  "axis": {"orient": "left", "values": [0, 2, 4], "format": "d", "title": "Line/Hβ"}},
            "y2": {"datum": 0}
          }
        },
        {
          "transform": [{"filter": "datum.panel == 'v1000' && datum.kind == 'balmer'"}],
          "mark": {"type": "rule", "color": "#0000ff", "strokeWidth": 1.4},
          "encoding": {"y2": {"datum": 0}}
        },
        {
          "transform": [{"filter": "datum.panel == 'v1000' && datum.arrow === true"}],
          "mark": {"type": "point", "shape": "M0,-1L0.65,1L-0.65,1Z", "filled": true, "color": "#bf5050", "opacity": 1, "size": 196},
          "encoding": {"y": {"datum": 4.67, "type": "quantitative", "scale": {"domain": [0, 5], "nice": false, "zero": false}, "axis": null}}
        },
        {
          "data": {"name": "paschen"},
          "mark": {"type": "rule", "color": "#6b8cec", "strokeWidth": 1.4},
          "encoding": {"y2": {"datum": 0}}
        },
        {
          "data": {"name": "labels"},
          "transform": [{"filter": "datum.panel == 'v1000' && datum.kind == 'forbidden'"}],
          "mark": {"type": "text", "color": "#a83232", "fontSize": 19, "align": "center", "baseline": "middle"},
          "encoding": {"text": {"field": "text"}}
        },
        {
          "data": {"name": "labels"},
          "transform": [{"filter": "datum.panel == 'v1000' && datum.kind == 'balmer'"}],
          "mark": {"type": "text", "color": "#0000ff", "fontSize": 19, "align": "center", "baseline": "middle"},
          "encoding": {"text": {"field": "text"}}
        },
        {
          "data": {"name": "series"},
          "mark": {"type": "text", "color": "#4169e1", "fontSize": 14.5, "fontWeight": "bold", "align": "center", "baseline": "middle"},
          "encoding": {"text": {"field": "text"}}
        },
        {
          "data": {"name": "speeds"},
          "transform": [{"filter": "datum.panel == 'v1000'"}],
          "layer": [
            {"mark": {"type": "text", "text": "v", "fontSize": 26, "fontStyle": "italic", "align": "left", "baseline": "middle", "color": "#000"}},
            {"mark": {"type": "text", "text": "s", "fontSize": 18, "fontStyle": "italic", "align": "left", "baseline": "middle", "dx": 15, "dy": 8, "color": "#000"}},
            {"mark": {"type": "text", "fontSize": 26, "align": "left", "baseline": "middle", "dx": 31, "color": "#000"}, "encoding": {"text": {"field": "rest"}}}
          ]
        },
        {
          "mark": {"type": "point", "opacity": 0},
          "encoding": {
            "x": {"field": "wavelength", "type": "quantitative", "scale": {"domain": [2710, 11200], "nice": false, "zero": false},
                  "axis": {"orient": "top", "values": [3000, 4000, 5000, 6000, 7000, 8000, 9000, 10000, 11000], "labels": false, "title": null}},
            "y": {"field": "ratio", "type": "quantitative", "scale": {"domain": [0, 5], "nice": false, "zero": false},
                  "axis": {"orient": "right", "values": [0, 2, 4], "labels": false, "title": null}}
          }
        }
      ],
      "resolve": {"axis": {"x": "independent", "y": "independent"}}
    }
  ],
  "spacing": 0,
  "bounds": "flush",
  "resolve": {"scale": {"x": "independent", "y": "independent", "color": "independent"}, "legend": {"color": "independent"}}
}
